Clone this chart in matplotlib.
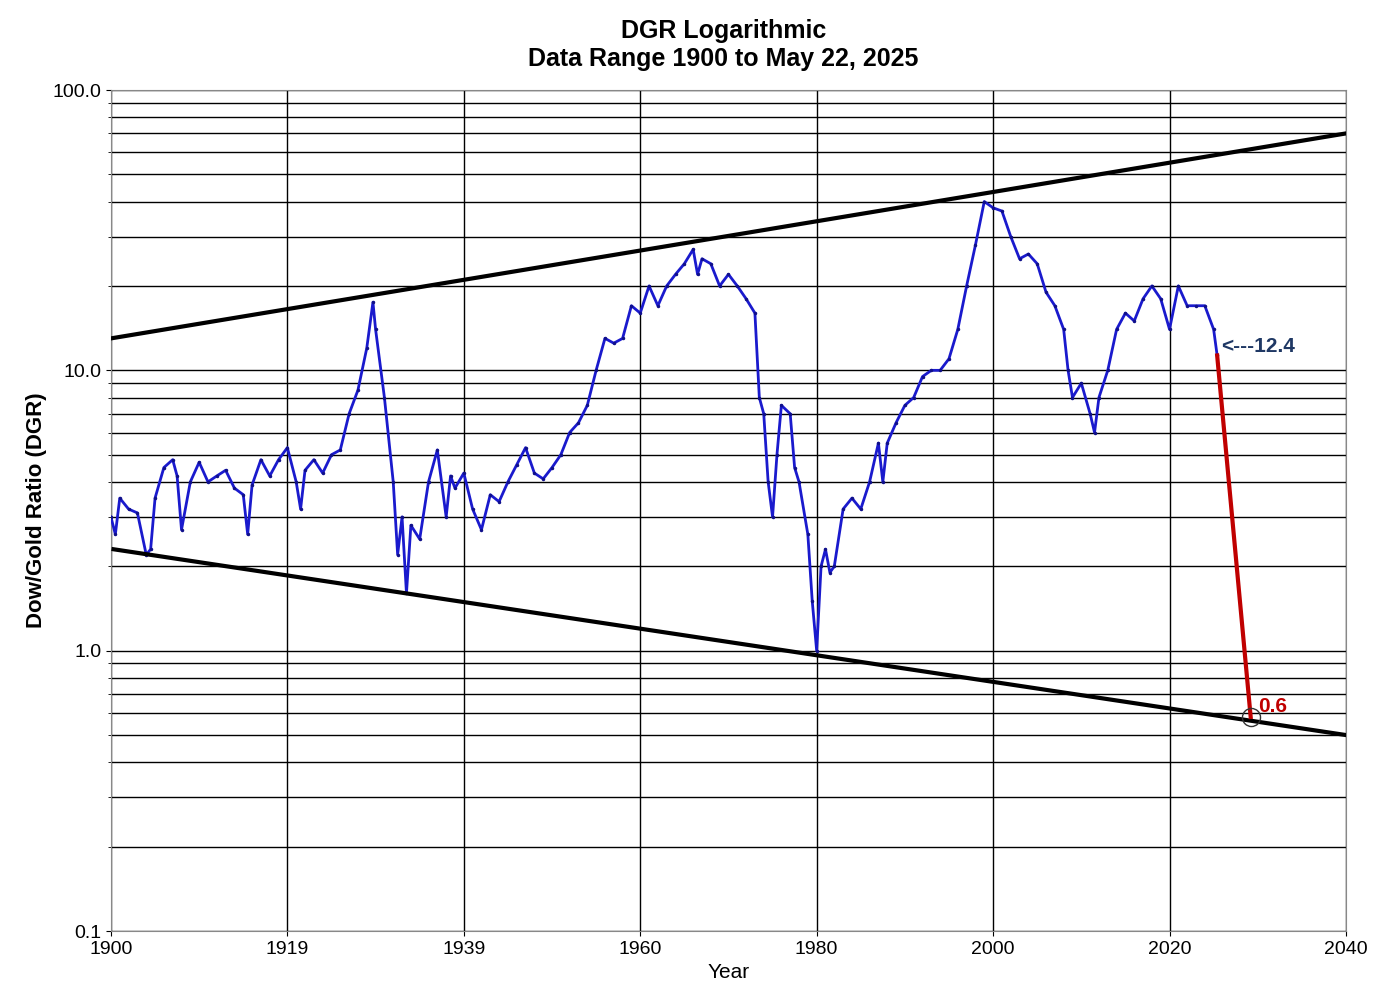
import matplotlib
matplotlib.use("Agg")
import matplotlib.pyplot as plt
from matplotlib.ticker import FixedLocator, LogLocator, NullFormatter
plt.rcParams['font.family'] = ['Liberation Sans', 'DejaVu Sans']

years = [1900,1900.5,1901,1902,1903,1904,1904.5,1905,1906,1907,1907.5,1908,1909,1910,1911,1912,1913,1914,1915,1915.5,
         1916,1917,1918,1919,1920,1921,1921.5,1922,1923,1924,1925,1926,1927,1928,1929,1929.7,1930,1931,1932,1932.5,
         1933,1933.5,1934,1935,1936,1937,1938,1938.5,1939,1940,1941,1942,1943,1944,1945,1946,1947,1948,1949,1950,
         1951,1952,1953,1954,1955,1956,1957,1958,1959,1960,1961,1962,1963,1964,1965,1966,1966.5,1967,1968,1969,
         1970,1971,1972,1973,1973.5,1974,1974.5,1975,1975.5,1976,1977,1977.5,1978,1979,1979.5,1980,1980.5,1981,1981.5,1982,
         1983,1984,1985,1986,1987,1987.5,1988,1989,1990,1991,1992,1993,1994,1995,1996,1997,1998,1999,2000,2001,
         2002,2003,2004,2005,2006,2007,2008,2008.5,2009,2010,2011,2011.5,2012,2013,2014,2015,2016,2017,2018,2019,
         2020,2021,2022,2023,2024,2025,2025.4]
dgr = [3.0,2.6,3.5,3.2,3.1,2.2,2.3,3.5,4.5,4.8,4.2,2.7,4.0,4.7,4.0,4.2,4.4,3.8,3.6,2.6,
       3.9,4.8,4.2,4.8,5.3,4.0,3.2,4.4,4.8,4.3,5.0,5.2,7.0,8.5,12,17.5,14,8,4,2.2,
       3.0,1.6,2.8,2.5,4.0,5.2,3.0,4.2,3.8,4.3,3.2,2.7,3.6,3.4,4.0,4.6,5.3,4.3,4.1,4.5,
       5.0,6.0,6.5,7.5,10,13,12.5,13,17,16,20,17,20,22,24,27,22,25,24,20,
       22,20,18,16,8,7,4,3,5,7.5,7.0,4.5,4.0,2.6,1.5,1.0,2.0,2.3,1.9,2.0,
       3.2,3.5,3.2,4.0,5.5,4.0,5.5,6.5,7.5,8.0,9.5,10,10,11,14,20,28,40,38,37,
       30,25,26,24,19,17,14,10,8,9,7,6,8,10,14,16,15,18,20,18,
       14,20,17,17,17,14,11.3]

upper_x = [1900, 2040]; upper_y = [13, 70]
lower_x = [1900.3, 2040]; lower_y = [2.3, 0.5]
proj_x = [2025.4, 2029.2]; proj_y = [11.3, 0.58]

xticks = [1900,1920,1940,1960,1980,2000,2020,2040]
xlabels = ["1900","1919","1939","1960","1980","2000","2020","2040"]

fig = plt.figure(figsize=(13.73,10), dpi=100)
ax = fig.add_axes([0.0808, 0.069, 0.8995, 0.841])
ax.set_yscale('log')
ax.set_xlim(1900, 2040); ax.set_ylim(0.1, 100)
ax.plot(years, dgr, color='#1a1acd', lw=2, marker='.', ms=3, mfc='#10108a', mec='#10108a', zorder=3)
ax.plot(upper_x, upper_y, color='black', lw=3, zorder=4)
ax.plot(lower_x, lower_y, color='black', lw=3, zorder=4)
ax.plot(proj_x, proj_y, color='#c00000', lw=3, zorder=4)
ax.plot([proj_x[1]], [proj_y[1]], 'o', ms=13, mfc='none', mec='#333333', mew=1, zorder=5)
ax.text(2025.8, 12.2, "<---12.4", color='#1f3864', fontsize=15, fontweight='bold', va='center')
ax.text(2030.0, 0.63, "0.6", color='#c00000', fontsize=15, fontweight='bold', va='center')
ax.xaxis.set_major_locator(FixedLocator(xticks))
ax.set_xticklabels(xlabels, fontsize=14)
ax.yaxis.set_major_locator(FixedLocator([0.1,1,10,100]))
ax.set_yticklabels(["0.1","1.0","10.0","100.0"], fontsize=14)
ax.yaxis.set_minor_locator(LogLocator(subs=range(2,10)))
ax.yaxis.set_minor_formatter(NullFormatter())
ax.grid(True, which='both', axis='y', color='black', lw=1)
ax.grid(True, which='major', axis='x', color='black', lw=1)
for s in ax.spines.values():
    s.set_color('#888888')
ax.set_xlabel("Year", fontsize=15)
ax.set_ylabel("Dow/Gold Ratio (DGR)", fontsize=16, fontweight='bold')
fig.text(0.527, 0.955, "DGR Logarithmic\nData Range 1900 to May 22, 2025", ha='center', va='center',
         fontsize=18, fontweight='bold', linespacing=1.2)
fig.savefig("out.png", dpi=100)
